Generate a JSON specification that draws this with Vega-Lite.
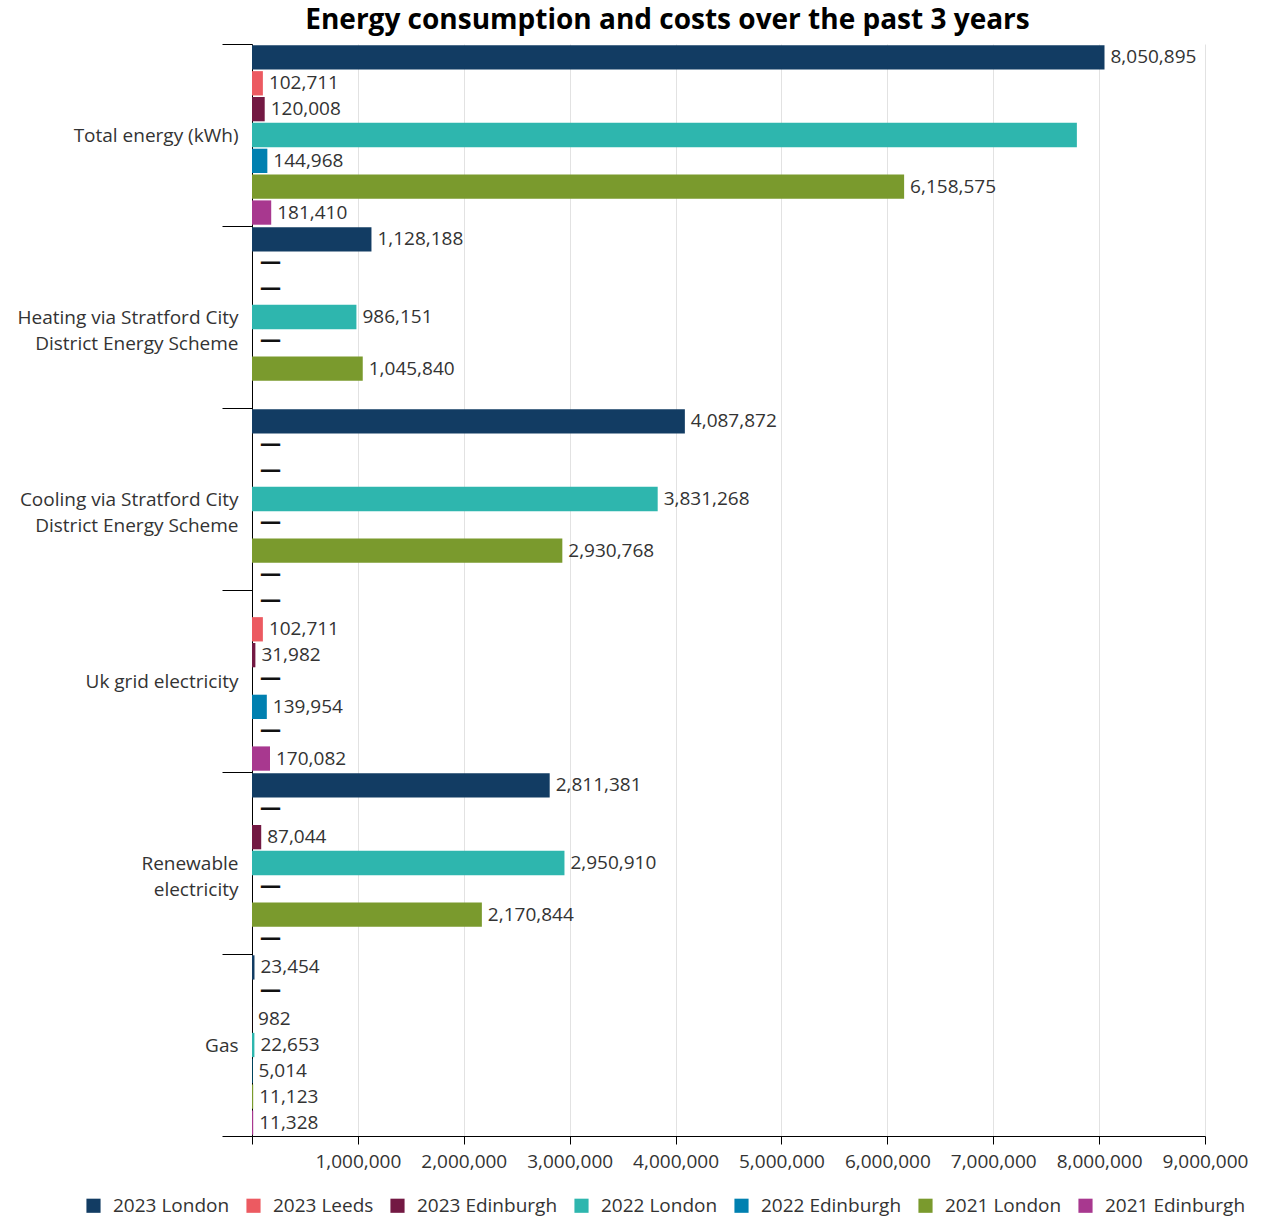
{
  "$schema": "https://vega.github.io/schema/vega-lite/v6.json",
  "width": 953,
  "height": 1092,
  "padding": {"left": 17, "top": 7, "right": 8, "bottom": 60},
  "background": "white",
  "title": {
    "text": "Energy consumption and costs over the past 3 years",
    "fontSize": 28,
    "font": "Open Sans",
    "fontWeight": "bold",
    "color": "#000000",
    "anchor": "middle",
    "dx": -61,
    "offset": 0
  },
  "config": {
    "font": "Open Sans",
    "view": {"stroke": null},
    "axis": {"labelFont": "Open Sans", "labelColor": "#333333"},
    "legend": {"labelFont": "Open Sans"}
  },
  "data": {
    "values": [
      {"category": "Total energy (kWh)", "series": "2023 London", "value": 8050895, "label": "8,050,895"},
      {"category": "Total energy (kWh)", "series": "2023 Leeds", "value": 102711, "label": "102,711"},
      {"category": "Total energy (kWh)", "series": "2023 Edinburgh", "value": 120008, "label": "120,008"},
      {"category": "Total energy (kWh)", "series": "2022 London", "value": 7790000, "label": ""},
      {"category": "Total energy (kWh)", "series": "2022 Edinburgh", "value": 144968, "label": "144,968"},
      {"category": "Total energy (kWh)", "series": "2021 London", "value": 6158575, "label": "6,158,575"},
      {"category": "Total energy (kWh)", "series": "2021 Edinburgh", "value": 181410, "label": "181,410"},
      {"category": "Heating via Stratford City District Energy Scheme", "series": "2023 London", "value": 1128188, "label": "1,128,188"},
      {"category": "Heating via Stratford City District Energy Scheme", "series": "2023 Leeds", "value": 0, "label": "—"},
      {"category": "Heating via Stratford City District Energy Scheme", "series": "2023 Edinburgh", "value": 0, "label": "—"},
      {"category": "Heating via Stratford City District Energy Scheme", "series": "2022 London", "value": 986151, "label": "986,151"},
      {"category": "Heating via Stratford City District Energy Scheme", "series": "2022 Edinburgh", "value": 0, "label": "—"},
      {"category": "Heating via Stratford City District Energy Scheme", "series": "2021 London", "value": 1045840, "label": "1,045,840"},
      {"category": "Cooling via Stratford City District Energy Scheme", "series": "2023 London", "value": 4087872, "label": "4,087,872"},
      {"category": "Cooling via Stratford City District Energy Scheme", "series": "2023 Leeds", "value": 0, "label": "—"},
      {"category": "Cooling via Stratford City District Energy Scheme", "series": "2023 Edinburgh", "value": 0, "label": "—"},
      {"category": "Cooling via Stratford City District Energy Scheme", "series": "2022 London", "value": 3831268, "label": "3,831,268"},
      {"category": "Cooling via Stratford City District Energy Scheme", "series": "2022 Edinburgh", "value": 0, "label": "—"},
      {"category": "Cooling via Stratford City District Energy Scheme", "series": "2021 London", "value": 2930768, "label": "2,930,768"},
      {"category": "Cooling via Stratford City District Energy Scheme", "series": "2021 Edinburgh", "value": 0, "label": "—"},
      {"category": "Uk grid electricity", "series": "2023 London", "value": 0, "label": "—"},
      {"category": "Uk grid electricity", "series": "2023 Leeds", "value": 102711, "label": "102,711"},
      {"category": "Uk grid electricity", "series": "2023 Edinburgh", "value": 31982, "label": "31,982"},
      {"category": "Uk grid electricity", "series": "2022 London", "value": 0, "label": "—"},
      {"category": "Uk grid electricity", "series": "2022 Edinburgh", "value": 139954, "label": "139,954"},
      {"category": "Uk grid electricity", "series": "2021 London", "value": 0, "label": "—"},
      {"category": "Uk grid electricity", "series": "2021 Edinburgh", "value": 170082, "label": "170,082"},
      {"category": "Renewable electricity", "series": "2023 London", "value": 2811381, "label": "2,811,381"},
      {"category": "Renewable electricity", "series": "2023 Leeds", "value": 0, "label": "—"},
      {"category": "Renewable electricity", "series": "2023 Edinburgh", "value": 87044, "label": "87,044"},
      {"category": "Renewable electricity", "series": "2022 London", "value": 2950910, "label": "2,950,910"},
      {"category": "Renewable electricity", "series": "2022 Edinburgh", "value": 0, "label": "—"},
      {"category": "Renewable electricity", "series": "2021 London", "value": 2170844, "label": "2,170,844"},
      {"category": "Renewable electricity", "series": "2021 Edinburgh", "value": 0, "label": "—"},
      {"category": "Gas", "series": "2023 London", "value": 23454, "label": "23,454"},
      {"category": "Gas", "series": "2023 Leeds", "value": 0, "label": "—"},
      {"category": "Gas", "series": "2023 Edinburgh", "value": 982, "label": "982"},
      {"category": "Gas", "series": "2022 London", "value": 22653, "label": "22,653"},
      {"category": "Gas", "series": "2022 Edinburgh", "value": 5014, "label": "5,014"},
      {"category": "Gas", "series": "2021 London", "value": 11123, "label": "11,123"},
      {"category": "Gas", "series": "2021 Edinburgh", "value": 11328, "label": "11,328"}
    ]
  },
  "encoding": {
    "y": {
      "field": "category",
      "type": "nominal",
      "sort": ["Total energy (kWh)", "Heating via Stratford City District Energy Scheme", "Cooling via Stratford City District Energy Scheme", "Uk grid electricity", "Renewable electricity", "Gas"],
      "scale": {"paddingInner": 0, "paddingOuter": 0},
      "axis": {
        "title": null,
        "tickBand": "extent",
        "tickSize": 30,
        "tickColor": "#000000",
        "domainColor": "#000000",
        "labelPadding": -16,
        "labelFontSize": 19,
        "labelLimit": 300,
        "labelLineHeight": 26,
        "labelExpr": "datum.value == 'Heating via Stratford City District Energy Scheme' ? ['Heating via Stratford City', 'District Energy Scheme'] : datum.value == 'Cooling via Stratford City District Energy Scheme' ? ['Cooling via Stratford City', 'District Energy Scheme'] : datum.value == 'Renewable electricity' ? ['Renewable', 'electricity'] : datum.label"
      }
    },
    "yOffset": {
      "field": "series",
      "type": "nominal",
      "sort": ["2023 London", "2023 Leeds", "2023 Edinburgh", "2022 London", "2022 Edinburgh", "2021 London", "2021 Edinburgh"],
      "scale": {"paddingInner": 0.06, "paddingOuter": 0.05}
    },
    "x": {
      "field": "value",
      "type": "quantitative",
      "scale": {"domain": [0, 9000000], "nice": false},
      "axis": {
        "title": null,
        "values": [0, 1000000, 2000000, 3000000, 4000000, 5000000, 6000000, 7000000, 8000000, 9000000],
        "labelExpr": "datum.value == 0 ? '' : format(datum.value, ',')",
        "labelOverlap": false,
        "labelFontSize": 19,
        "labelPadding": 8,
        "labelFlush": false,
        "tickSize": 8,
        "tickColor": "#000000",
        "domainColor": "#000000",
        "grid": true,
        "gridColor": "#e2e2e2"
      }
    }
  },
  "layer": [
    {
      "mark": {"type": "bar"},
      "encoding": {
        "color": {
          "field": "series",
          "type": "nominal",
          "scale": {
            "domain": ["2023 London", "2023 Leeds", "2023 Edinburgh", "2022 London", "2022 Edinburgh", "2021 London", "2021 Edinburgh"],
            "range": ["#123c63", "#ec5a61", "#731943", "#2eb6ae", "#0080b0", "#7a9a2d", "#a8388f"]
          },
          "legend": {
            "title": null,
            "orient": "none",
            "legendX": -168,
            "legendY": 1152,
            "direction": "horizontal",
            "symbolType": "square",
            "symbolSize": 200,
            "symbolStrokeWidth": 0,
            "labelFontSize": 19,
            "labelColor": "#333333",
            "labelOffset": 10,
            "columnPadding": 14,
            "labelLimit": 300
          }
        }
      }
    },
    {
      "transform": [{"filter": "datum.label != '—'"}],
      "mark": {"type": "text", "align": "left", "baseline": "middle", "dx": 6, "fontSize": 19, "color": "#333333"},
      "encoding": {
        "text": {"field": "label", "type": "nominal"}
      }
    },
    {
      "transform": [{"filter": "datum.label == '—'"}],
      "mark": {"type": "text", "align": "left", "baseline": "middle", "dx": 8, "dy": -2, "fontSize": 21, "fontWeight": "bold", "color": "#111111"},
      "encoding": {
        "text": {"field": "label", "type": "nominal"}
      }
    }
  ]
}
